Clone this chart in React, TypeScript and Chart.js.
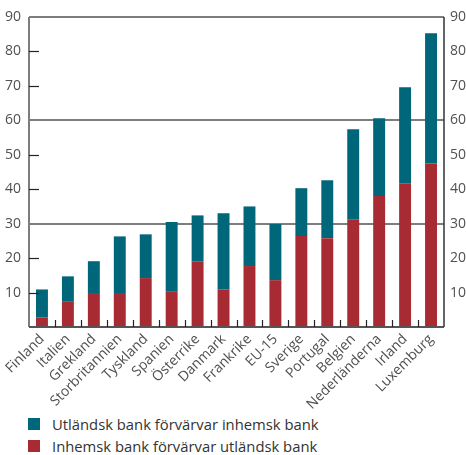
import React, { useEffect, useRef } from "react";
import { Chart, registerables } from "chart.js";

Chart.register(...registerables);

const categories = [
  "Finland", "Italien", "Grekland", "Storbritannien", "Tyskland", "Spanien",
  "Österrike", "Danmark", "Frankrike", "EU-15", "Sverige", "Portugal",
  "Belgien", "Nederländerna", "Irland", "Luxemburg",
];
// Inhemsk bank förvärvar utländsk bank (bottom, red)
const inhemsk = [2.8, 7.5, 9.6, 9.6, 14.2, 10.4, 19.1, 10.9, 17.7, 13.6, 26.4, 25.8, 31.3, 38.0, 41.7, 47.5];
// Utländsk bank förvärvar inhemsk bank (top, teal)
const utlandsk = [8.1, 7.2, 9.5, 16.7, 12.7, 20.1, 13.3, 22.1, 17.3, 16.3, 13.9, 16.8, 26.1, 22.6, 27.9, 37.8];
const yTicks = [10, 20, 30, 40, 50, 60, 70, 80, 90];
const gridValues = [30, 60];

const TEAL = "#006679";
const RED = "#a82a33";
const FONT = "'Open Sans', 'Noto Sans', sans-serif";

const framePlugin = {
  id: "frame",
  beforeDatasetsDraw(chart: any) {
    const { ctx, chartArea, scales } = chart;
    ctx.save();
    ctx.strokeStyle = "#7d7d7d";
    ctx.lineWidth = 2;
    gridValues.forEach((v) => {
      const y = Math.round(scales.y.getPixelForValue(v));
      ctx.beginPath();
      ctx.moveTo(chartArea.left, y);
      ctx.lineTo(chartArea.right, y);
      ctx.stroke();
    });
    ctx.restore();
  },
  afterDatasetsDraw(chart: any) {
    const { ctx, chartArea, scales } = chart;
    const { left, right, top, bottom } = chartArea;
    ctx.save();
    ctx.strokeStyle = "#7d7d7d";
    ctx.lineWidth = 2;
    ctx.beginPath();
    ctx.moveTo(left, top);
    ctx.lineTo(right, top);
    ctx.stroke();
    ctx.beginPath();
    ctx.moveTo(left, top);
    ctx.lineTo(left, bottom);
    ctx.stroke();
    ctx.strokeStyle = "#555";
    ctx.beginPath();
    ctx.moveTo(left, bottom);
    ctx.lineTo(right, bottom);
    ctx.stroke();
    ctx.strokeStyle = "#333";
    ctx.lineWidth = 1.5;
    ctx.beginPath();
    ctx.moveTo(right, top);
    ctx.lineTo(right, bottom);
    ctx.stroke();
    ctx.strokeStyle = "#222";
    ctx.lineWidth = 1.2;
    yTicks.forEach((v) => {
      if (gridValues.includes(v) || v === 90) return;
      const y = Math.round(scales.y.getPixelForValue(v)) + 0.5;
      ctx.beginPath();
      ctx.moveTo(left, y);
      ctx.lineTo(left + 10, y);
      ctx.stroke();
    });
    const n = categories.length;
    const step = (right - left) / n;
    for (let i = 1; i < n; i++) {
      const x = Math.round(left + i * step) + 0.5;
      ctx.beginPath();
      ctx.moveTo(x, bottom);
      ctx.lineTo(x, bottom - 7);
      ctx.stroke();
    }
    ctx.restore();
  },
};

export default function App() {
  const ref = useRef<HTMLCanvasElement | null>(null);

  useEffect(() => {
    if (!ref.current) return;
    const tickFont = { family: FONT, size: 14 };
    const chart = new Chart(ref.current, {
      type: "bar",
      data: {
        labels: categories,
        datasets: [
          {
            label: "Inhemsk bank förvärvar utländsk bank",
            data: inhemsk,
            backgroundColor: RED,
            barPercentage: 0.46,
            categoryPercentage: 1,
            stack: "s",
          },
          {
            label: "Utländsk bank förvärvar inhemsk bank",
            data: utlandsk,
            backgroundColor: TEAL,
            barPercentage: 0.46,
            categoryPercentage: 1,
            stack: "s",
          },
        ],
      },
      options: {
        responsive: false,
        animation: false,
        devicePixelRatio: 1,
        layout: { padding: { top: 17, left: 0, right: 0, bottom: 0 } },
        plugins: { legend: { display: false }, tooltip: { enabled: false } },
        scales: {
          x: {
            stacked: true,
            grid: { display: false, drawTicks: false },
            border: { display: false },
            ticks: {
              font: tickFont,
              color: "#505050",
              minRotation: 45,
              maxRotation: 45,
              padding: 4,
              autoSkip: false,
            },
            afterFit(scale: any) {
              scale.height = 83;
            },
          },
          y: {
            stacked: true,
            position: "left",
            min: 0,
            max: 90,
            grid: { display: false, drawTicks: false },
            border: { display: false },
            ticks: {
              stepSize: 10,
              font: tickFont,
              color: "#505050",
              padding: 8,
              callback: (v: any) => (v === 0 ? "" : String(v)),
            },
            afterFit(scale: any) {
              scale.width = 29;
            },
          },
          y2: {
            position: "right",
            min: 0,
            max: 90,
            grid: { display: false, drawTicks: false },
            border: { display: false },
            ticks: {
              stepSize: 10,
              font: tickFont,
              color: "#505050",
              padding: 6,
              callback: (v: any) => (v === 0 ? "" : String(v)),
            },
            afterFit(scale: any) {
              scale.width = 22;
            },
          },
        },
      },
      plugins: [framePlugin],
    } as any);
    return () => chart.destroy();
  }, []);

  const legendItems = [
    { color: TEAL, label: "Utländsk bank förvärvar inhemsk bank", top: 414 },
    { color: RED, label: "Inhemsk bank förvärvar utländsk bank", top: 436 },
  ];

  return (
    <div style={{ position: "absolute", left: 0, top: 0, width: 466, height: 455, background: "#fff" }}>
      <canvas ref={ref} width={466} height={410} style={{ position: "absolute", left: 0, top: 0, width: 466, height: 410 }} />
      {legendItems.map((it) => (
        <div
          key={it.label}
          style={{
            position: "absolute",
            left: 28,
            top: it.top,
            height: 20,
            display: "flex",
            alignItems: "center",
            fontFamily: FONT,
            fontSize: 14.8,
            color: "#333",
            whiteSpace: "nowrap",
          }}
        >
          <span style={{ display: "inline-block", width: 12, height: 12, background: it.color, marginRight: 12 }} />
          <span>{it.label}</span>
        </div>
      ))}
    </div>
  );
}
